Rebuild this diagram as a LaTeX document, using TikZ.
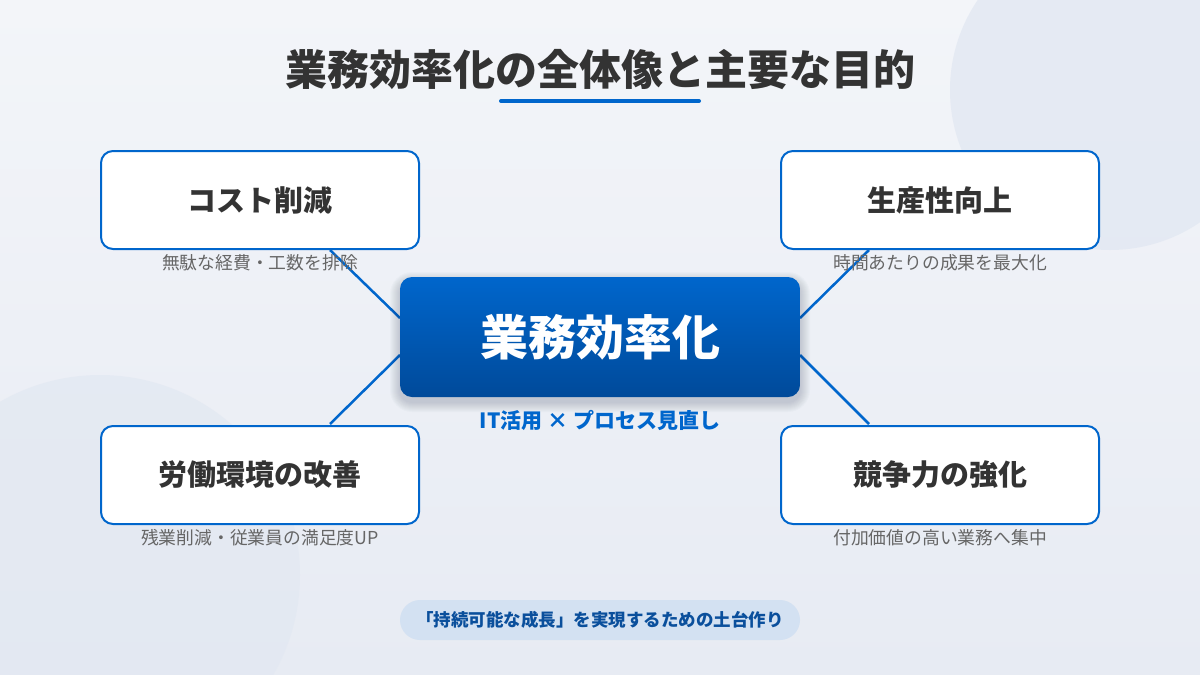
\documentclass[tikz,border=0pt]{standalone}
\usepackage{fontspec}
\newfontfamily\jp{Noto Sans CJK JP}
\definecolor{ink}{HTML}{333333}
\definecolor{subgray}{HTML}{666666}
\definecolor{brand}{HTML}{0066CC}
\definecolor{brandDark}{HTML}{004A9A}
\definecolor{bgA}{HTML}{F3F5F9}
\definecolor{bgB}{HTML}{E7EBF3}
\definecolor{blob}{HTML}{E2E8F2}
\definecolor{pillfill}{HTML}{D3E1F2}
\definecolor{pilltext}{HTML}{0A4F9C}
\definecolor{shadowc}{HTML}{1A2A4A}
\begin{document}
\begin{tikzpicture}[x=1pt,y=-1pt,
  goalbox/.style={draw=brand, line width=2pt, fill=white, rounded corners=12pt,
    minimum width=318pt, minimum height=98pt, inner sep=0pt,
    font=\jp\bfseries\fontsize{29}{34}\selectfont, text=ink},
  subtext/.style={font=\jp\fontsize{17.8}{20}\selectfont, text=subgray, inner sep=0pt},
  link/.style={draw=brand, line width=2.5pt},
  corebox/.style={rounded corners=12pt, minimum width=400pt, minimum height=120pt,
    top color=brand, bottom color=brandDark, inner sep=0pt,
    font=\jp\bfseries\fontsize{48}{54}\selectfont, text=white},
  pill/.style={fill=pillfill, rounded corners=20pt, minimum width=400pt, minimum height=40pt,
    inner sep=0pt, font=\jp\bfseries\fontsize{17.5}{20}\selectfont, text=pilltext}
]
% background
\useasboundingbox (0,0) rectangle (1200,675);
\shade[top color=bgA, bottom color=bgB] (0,0) rectangle (1200,675);
\begin{scope}
  \clip (0,0) rectangle (1200,675);
  \fill[blob, opacity=0.8] (1110,90) circle[radius=160];
  \fill[blob, opacity=0.7] (100,575) circle[radius=200];
\end{scope}

% title
\node[font=\jp\bfseries\fontsize{42}{48}\selectfont, text=ink, inner sep=0pt] (title) at (600,70) {業務効率化の全体像と主要な目的};
\coordinate (ulA) at (501,101);
\coordinate (ulB) at (699,101);
\draw[brand, line width=4pt, line cap=round] (ulA) -- (ulB);

% connectors
\coordinate (tlA) at (330,250);
\coordinate (cTL) at (400,318);
\coordinate (blA) at (330,424);
\coordinate (cBL) at (400,355);
\coordinate (trA) at (869,250);
\coordinate (cTR) at (800,318);
\coordinate (brA) at (869,424);
\coordinate (cBR) at (800,355);
\draw[link] (tlA) -- (cTL);
\draw[link] (blA) -- (cBL);
\draw[link] (trA) -- (cTR);
\draw[link] (brA) -- (cBR);

% goal boxes
\node[goalbox] (cost) at (260,200) {コスト削減};
\node[goalbox] (prod) at (940,200) {生産性向上};
\node[goalbox] (work) at (260,475) {労働環境の改善};
\node[goalbox] (comp) at (940,475) {競争力の強化};

\node[subtext] (costS) at (260,263) {無駄な経費・工数を排除};
\node[subtext] (prodS) at (940,263) {時間あたりの成果を最大化};
\node[subtext] (workS) at (260,538) {残業削減・従業員の満足度UP};
\node[subtext] (compS) at (940,538) {付加価値の高い業務へ集中};

% soft shadow of core box
\foreach \s in {1,...,10}{
  \fill[shadowc, opacity=0.018, rounded corners={12pt+\s pt}]
    ({400-\s},{282-\s}) rectangle ({800+\s},{402+\s});
}
% core
\node[corebox] (core) at (600,337) {業務効率化};
\node[font=\jp\bfseries\fontsize{21}{24}\selectfont, text=brand, inner sep=0pt] (method) at (600,420) {IT活用 × プロセス見直し};

% bottom note
\node[pill] (note) at (600,620) {「持続可能な成長」を実現するための土台作り};
\end{tikzpicture}
\end{document}
